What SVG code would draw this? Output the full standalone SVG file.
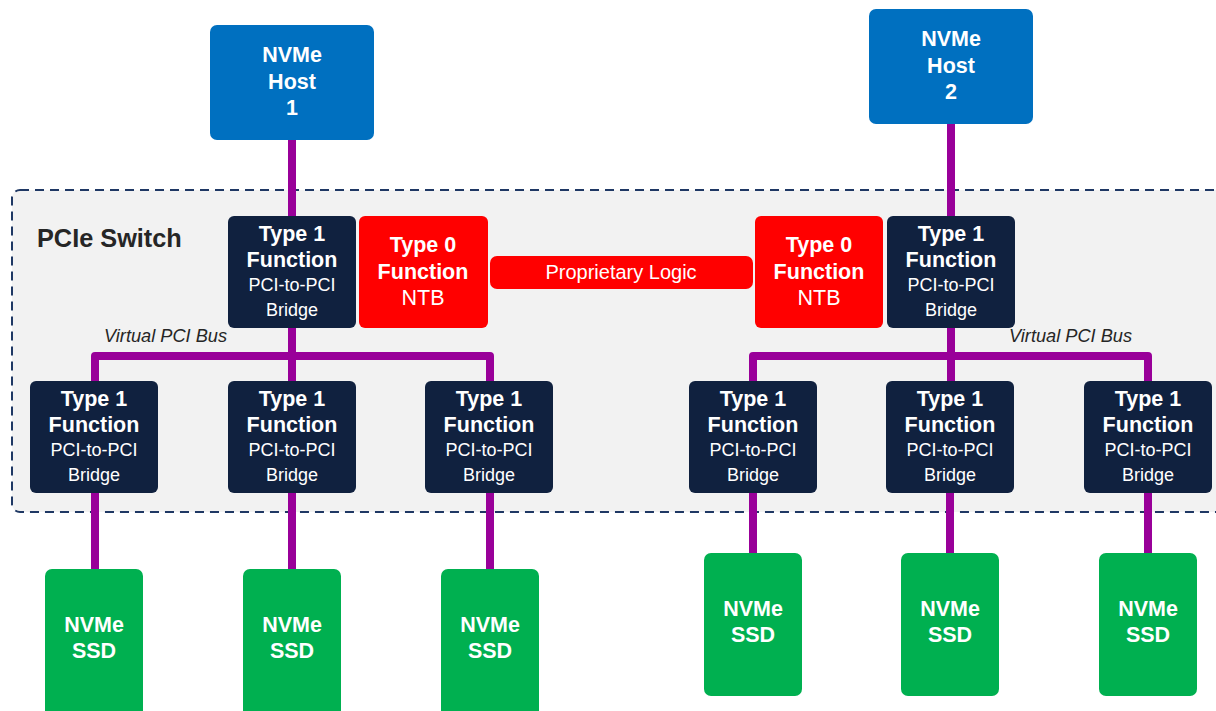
<svg xmlns="http://www.w3.org/2000/svg" width="1216" height="711" viewBox="0 0 1216 711">
<style>
.host{fill:#0070C0}
.t1{fill:#10213F}
.ntb{fill:#FF0000}
.ssd{fill:#00B050}
.b{font-family:"Liberation Sans",Arial,sans-serif;font-weight:bold;font-size:21.5px;fill:#fff;text-anchor:middle}
.r{font-family:"Liberation Sans",Arial,sans-serif;font-size:18px;fill:#fff;text-anchor:middle}
.rn{font-family:"Liberation Sans",Arial,sans-serif;font-size:21.5px;fill:#fff;text-anchor:middle}
.pl{font-family:"Liberation Sans",Arial,sans-serif;font-size:20px;fill:#fff;text-anchor:middle}
.it{font-family:"Liberation Sans",Arial,sans-serif;font-style:italic;font-size:18.2px;fill:#262626}
.wire{stroke:#990099;stroke-width:8;fill:none;stroke-linejoin:round}
</style>
<rect width="1216" height="711" fill="#fff"/>
<g id="switch">
<rect x="12" y="190" width="1240" height="322" rx="8" fill="#F2F2F2" stroke="#1F3864" stroke-width="2" stroke-dasharray="9,6"/>
<text x="37" y="247" font-family="Liberation Sans,Arial,sans-serif" font-weight="bold" font-size="25.3" fill="#262626">PCIe Switch</text>
<text class="it" x="104" y="342">Virtual PCI Bus</text>
<text class="it" x="1009" y="342">Virtual PCI Bus</text>
</g>
<g id="connectors">
<path class="wire" d="M292,140 V216"/>
<path class="wire" d="M951,124 V216"/>
<path class="wire" d="M292,328 V381"/>
<path class="wire" d="M951,328 V381"/>
<path class="wire" d="M95,381 V356 H490 V381"/>
<path class="wire" d="M753,381 V356 H1148 V381"/>
<path class="wire" d="M95,493 V569"/>
<path class="wire" d="M292,493 V569"/>
<path class="wire" d="M490,493 V569"/>
<path class="wire" d="M753,493 V553"/>
<path class="wire" d="M950,493 V553"/>
<path class="wire" d="M1148,493 V553"/>
</g>
<g id="host1"><rect class="host" x="210" y="25" width="164" height="115" rx="7"/>
<text class="b" x="292" y="62">NVMe</text><text class="b" x="292" y="89">Host</text><text class="b" x="292" y="115">1</text></g>
<g id="host2"><rect class="host" x="869" y="9" width="164" height="115" rx="7"/>
<text class="b" x="951" y="46">NVMe</text><text class="b" x="951" y="73">Host</text><text class="b" x="951" y="99">2</text></g>
<g id="t1-top-left"><rect class="t1" x="228" y="216" width="128" height="112" rx="6"/>
<text class="b" x="292" y="241">Type 1</text><text class="b" x="292" y="267">Function</text><text class="r" x="292" y="291">PCI-to-PCI</text><text class="r" x="292" y="316">Bridge</text></g>
<g id="ntb-left"><rect class="ntb" x="359" y="216" width="129" height="112" rx="6"/>
<text class="b" x="423" y="252">Type 0</text><text class="b" x="423" y="279">Function</text><text class="rn" x="423" y="305">NTB</text></g>
<g id="proprietary"><rect class="ntb" x="490" y="256" width="263" height="33" rx="7"/>
<text class="pl" x="621" y="279">Proprietary Logic</text></g>
<g id="ntb-right"><rect class="ntb" x="755" y="216" width="128" height="112" rx="6"/>
<text class="b" x="819" y="252">Type 0</text><text class="b" x="819" y="279">Function</text><text class="rn" x="819" y="305">NTB</text></g>
<g id="t1-top-right"><rect class="t1" x="887" y="216" width="128" height="112" rx="6"/>
<text class="b" x="951" y="241">Type 1</text><text class="b" x="951" y="267">Function</text><text class="r" x="951" y="291">PCI-to-PCI</text><text class="r" x="951" y="316">Bridge</text></g>
<g id="t1-b1"><rect class="t1" x="30" y="381" width="128" height="112" rx="6"/>
<text class="b" x="94" y="406">Type 1</text><text class="b" x="94" y="432">Function</text><text class="r" x="94" y="456">PCI-to-PCI</text><text class="r" x="94" y="481">Bridge</text></g>
<g id="t1-b2"><rect class="t1" x="228" y="381" width="128" height="112" rx="6"/>
<text class="b" x="292" y="406">Type 1</text><text class="b" x="292" y="432">Function</text><text class="r" x="292" y="456">PCI-to-PCI</text><text class="r" x="292" y="481">Bridge</text></g>
<g id="t1-b3"><rect class="t1" x="425" y="381" width="128" height="112" rx="6"/>
<text class="b" x="489" y="406">Type 1</text><text class="b" x="489" y="432">Function</text><text class="r" x="489" y="456">PCI-to-PCI</text><text class="r" x="489" y="481">Bridge</text></g>
<g id="t1-b4"><rect class="t1" x="689" y="381" width="128" height="112" rx="6"/>
<text class="b" x="753" y="406">Type 1</text><text class="b" x="753" y="432">Function</text><text class="r" x="753" y="456">PCI-to-PCI</text><text class="r" x="753" y="481">Bridge</text></g>
<g id="t1-b5"><rect class="t1" x="886" y="381" width="128" height="112" rx="6"/>
<text class="b" x="950" y="406">Type 1</text><text class="b" x="950" y="432">Function</text><text class="r" x="950" y="456">PCI-to-PCI</text><text class="r" x="950" y="481">Bridge</text></g>
<g id="t1-b6"><rect class="t1" x="1084" y="381" width="128" height="112" rx="6"/>
<text class="b" x="1148" y="406">Type 1</text><text class="b" x="1148" y="432">Function</text><text class="r" x="1148" y="456">PCI-to-PCI</text><text class="r" x="1148" y="481">Bridge</text></g>
<g id="ssd1"><rect class="ssd" x="45" y="569" width="98" height="150" rx="7"/>
<text class="b" x="94" y="632">NVMe</text><text class="b" x="94" y="658">SSD</text></g>
<g id="ssd2"><rect class="ssd" x="243" y="569" width="98" height="150" rx="7"/>
<text class="b" x="292" y="632">NVMe</text><text class="b" x="292" y="658">SSD</text></g>
<g id="ssd3"><rect class="ssd" x="441" y="569" width="98" height="150" rx="7"/>
<text class="b" x="490" y="632">NVMe</text><text class="b" x="490" y="658">SSD</text></g>
<g id="ssd4"><rect class="ssd" x="704" y="553" width="98" height="143" rx="7"/>
<text class="b" x="753" y="616">NVMe</text><text class="b" x="753" y="642">SSD</text></g>
<g id="ssd5"><rect class="ssd" x="901" y="553" width="98" height="143" rx="7"/>
<text class="b" x="950" y="616">NVMe</text><text class="b" x="950" y="642">SSD</text></g>
<g id="ssd6"><rect class="ssd" x="1099" y="553" width="98" height="143" rx="7"/>
<text class="b" x="1148" y="616">NVMe</text><text class="b" x="1148" y="642">SSD</text></g>
</svg>
